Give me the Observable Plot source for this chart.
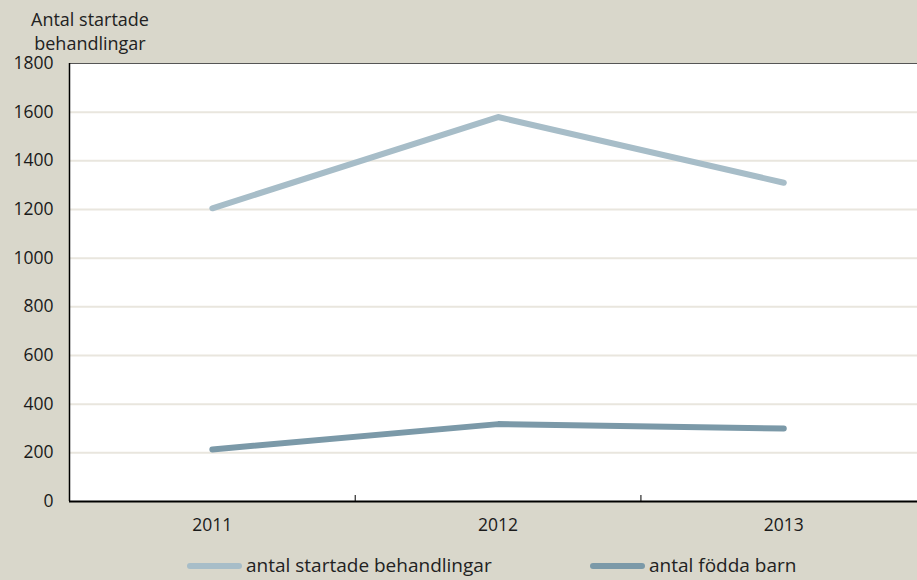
<!DOCTYPE html>
<html><head><meta charset="utf-8">
<script src="https://cdn.jsdelivr.net/npm/d3@7"></script>
<script src="https://cdn.jsdelivr.net/npm/@observablehq/plot@0.6"></script>
<style>
html,body{margin:0;padding:0;background:#d9d7cb;}
#wrap{width:917px;height:580px;position:relative;overflow:hidden;font-family:"Open Sans",sans-serif;color:#222;}
#title{position:absolute;left:31px;top:7px;font-size:18px;line-height:24px;text-align:center;}
#chart{position:absolute;left:0;top:50px;}
#legend{position:absolute;left:0;top:552px;width:917px;height:27px;font-size:19px;}
.item{position:absolute;top:0;display:flex;align-items:center;height:27px;line-height:25px;}
.sw{width:55px;height:6px;border-radius:3px;margin-right:4px;}
</style></head>
<body>
<div id="wrap">
<div id="title">Antal startade<br>behandlingar</div>
<div id="chart"></div>
<div id="legend"></div>
</div>
<script>
const years = [2011, 2012, 2013];
const behandlingar = [1205, 1580, 1310];
const fodda = [214, 318, 300];
const seriesNames = ["antal startade behandlingar", "antal födda barn"];
const seriesColors = ["#a7bdc8", "#7b99a8"];
const yTicks = [0, 200, 400, 600, 800, 1000, 1200, 1400, 1600, 1800];

const data = [
  ...years.map((y, i) => ({year: y, value: behandlingar[i], series: seriesNames[0]})),
  ...years.map((y, i) => ({year: y, value: fodda[i], series: seriesNames[1]}))
];

const chart = Plot.plot({
  width: 917,
  height: 495,
  marginLeft: 69,
  marginRight: 0,
  marginTop: 13,
  marginBottom: 44,
  style: {fontFamily: "Open Sans, sans-serif", fontSize: "17.5px", color: "#1a1a1a", background: "transparent", overflow: "visible"},
  x: {type: "linear", domain: [2010.5, 2013.468]},
  y: {domain: [0, 1800]},
  color: {domain: seriesNames, range: seriesColors},
  marks: [
    Plot.frame({fill: "white", stroke: null}),
    Plot.ruleY(yTicks.filter(d => d > 0 && d < 1800), {stroke: "#e9e6de", strokeWidth: 2}),
    Plot.ruleY([1800], {stroke: "#555", strokeWidth: 1}),
    Plot.axisY({ticks: yTicks, tickSize: 0, tickPadding: 16, label: null, tickFormat: d => String(d)}),
    Plot.axisX({ticks: years, tickSize: 0, tickPadding: 17, label: null, tickFormat: d => String(d)}),
    Plot.axisX({ticks: [2011.5, 2012.5], tickSize: -6, label: null, tickFormat: () => "", stroke: "#000"}),
    Plot.line(data, {x: "year", y: "value", z: "series", stroke: "series", strokeWidth: 6, strokeLinecap: "round", strokeLinejoin: "round"}),
    Plot.ruleX([2010.5], {stroke: "#000", strokeWidth: 1.5}),
    Plot.ruleY([0], {stroke: "#000", strokeWidth: 2})
  ]
});
document.getElementById("chart").appendChild(chart);

const legend = document.getElementById("legend");
const lefts = [187, 590];
seriesNames.forEach((n, i) => {
  const it = document.createElement("div");
  it.className = "item";
  it.style.left = lefts[i] + "px";
  it.innerHTML = `<div class="sw" style="background:${seriesColors[i]}"></div><span>${n}</span>`;
  legend.appendChild(it);
});
</script>
</body></html>
